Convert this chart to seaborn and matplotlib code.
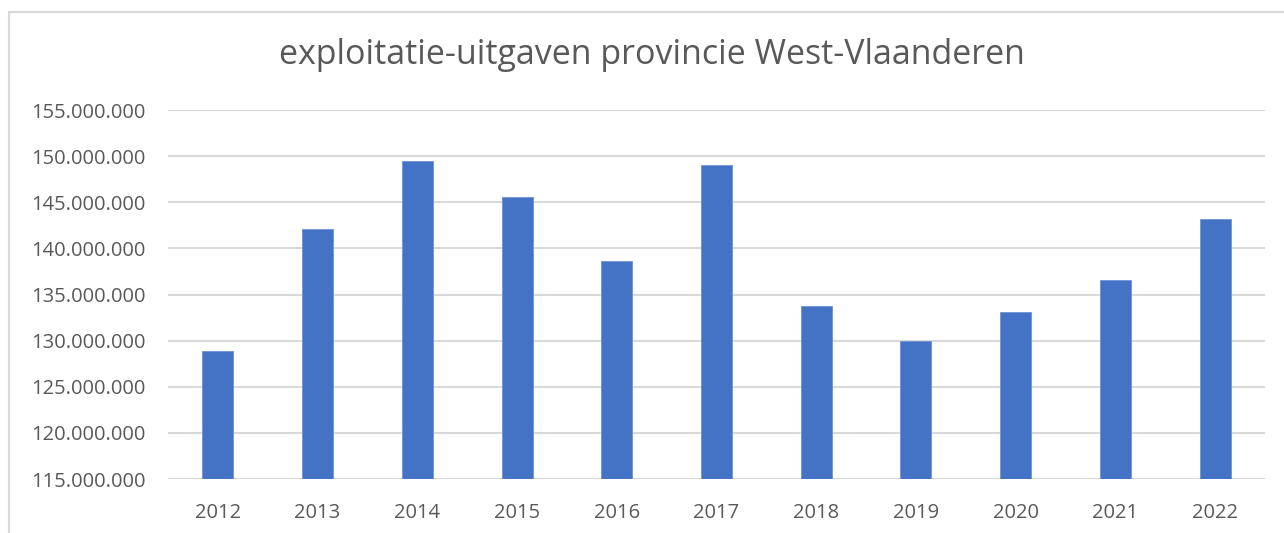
import matplotlib
matplotlib.use("Agg")
import matplotlib.pyplot as plt
import matplotlib.patches as mpatches
from matplotlib.ticker import FuncFormatter, MultipleLocator
import seaborn as sns
import pandas as pd

years = ["2012", "2013", "2014", "2015", "2016", "2017", "2018", "2019", "2020", "2021", "2022"]
uitgaven = [128_900_000, 142_050_000, 149_450_000, 145_520_000, 138_620_000, 149_020_000,
            133_700_000, 130_000_000, 133_150_000, 136_600_000, 143_150_000]
title = "exploitatie-uitgaven provincie West-Vlaanderen"

sns.set_theme(style="white")
plt.rcParams['font.family'] = ['Open Sans', 'DejaVu Sans']

df = pd.DataFrame({"jaar": years, "uitgaven": uitgaven})

fig = plt.figure(figsize=(12.84, 5.33), dpi=100)
ax = fig.add_axes([168/1284, 1-479/533, (1265-168)/1284, (479-110)/533])

sns.barplot(data=df, x="jaar", y="uitgaven", color="#4472C4", width=0.31,
            saturation=1, ax=ax, zorder=3, edgecolor="#6d93d6", linewidth=0.6)

ax.set_ylim(115_000_000, 155_000_000)
ax.yaxis.set_major_locator(MultipleLocator(5_000_000))
ax.yaxis.set_major_formatter(FuncFormatter(lambda v, p: f"{int(round(v)):,}".replace(",", ".")))
ax.grid(axis="y", color="#d9d9d9", linewidth=1.5, zorder=0)
ax.grid(axis="x", visible=False)
for s in ax.spines.values():
    s.set_visible(False)
ax.set_xlabel("")
ax.set_ylabel("")
ax.tick_params(axis="both", length=0, labelsize=14.5, labelcolor="#595959")
ax.tick_params(axis="y", pad=16)
ax.tick_params(axis="x", pad=17)

fig.text(652/1284, 1-55/533, title, ha="center", va="center", fontsize=24.5, color="#595959")

border = mpatches.Rectangle((9/1284, -0.1), 1.2, 1.1 - 12/533, transform=fig.transFigure,
                            fill=False, edgecolor="#d9d9d9", linewidth=1.5)
fig.patches.append(border)

fig.savefig("out.png", dpi=100)
